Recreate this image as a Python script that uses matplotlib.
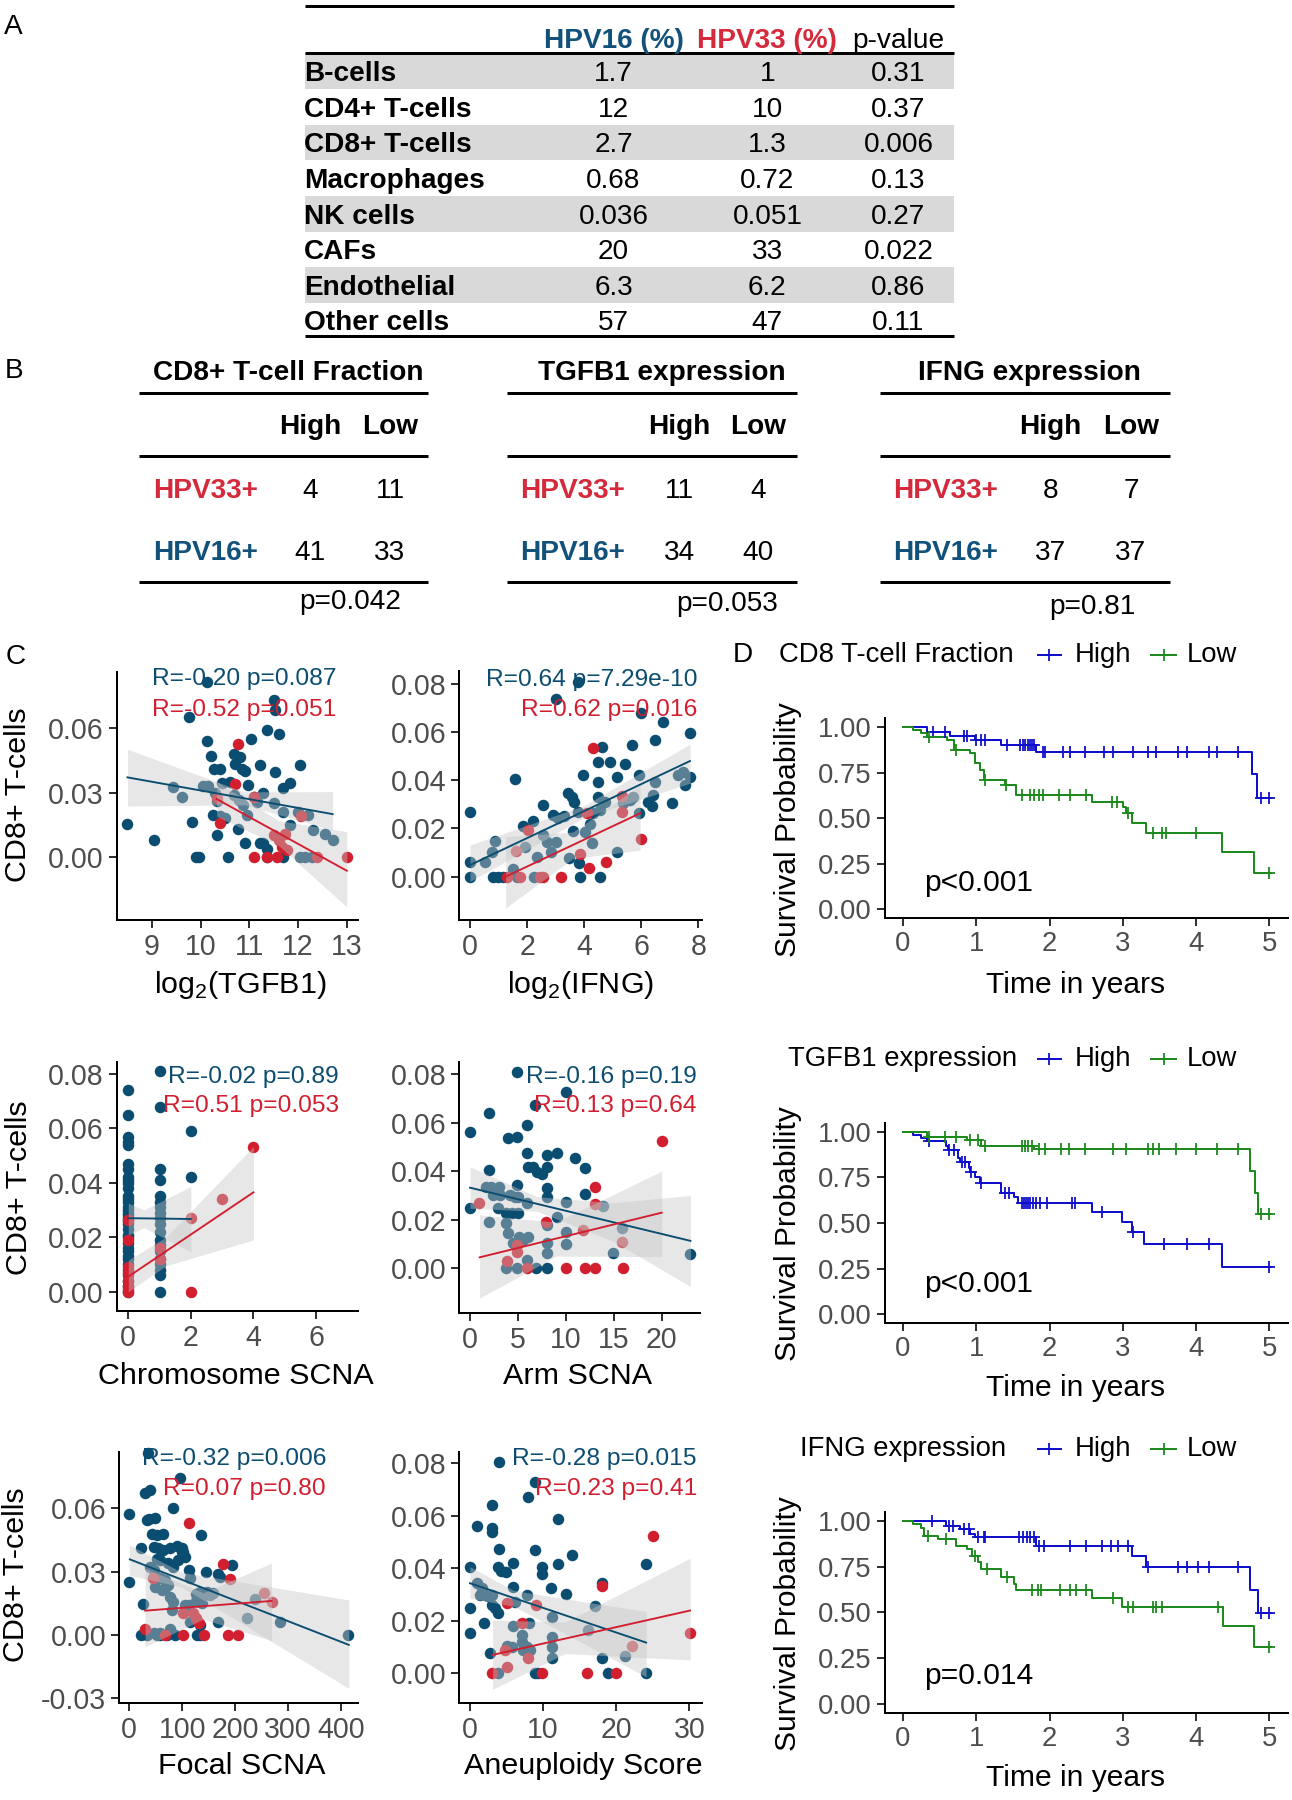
import numpy as np
import matplotlib
matplotlib.use("Agg")
import matplotlib.pyplot as plt
from matplotlib.lines import Line2D
from matplotlib.patches import Rectangle

plt.rcParams["font.family"] = ["Liberation Sans", "DejaVu Sans"]
plt.rcParams["axes.unicode_minus"] = False
plt.rcParams["mathtext.fontset"] = "custom"
plt.rcParams["mathtext.rm"] = "Liberation Sans"

W, H = 1292, 1800
PT = 0.72  # px -> pt at dpi 100

BLUE = "#0b4d70"
RED = "#d21f30"
HPV16_TXT = "#12527a"
HPV33_TXT = "#d42a3c"
SURV_HI = "#1010cc"
SURV_LO = "#1c8a1c"
TICK_TXT = "#4d4d4d"

# ---------------- A: cell fractions ----------------
cell_types = ["B-cells", "CD4+ T-cells", "CD8+ T-cells", "Macrophages",
              "NK cells", "CAFs", "Endothelial", "Other cells"]
hpv16_pct = ["1.7", "12", "2.7", "0.68", "0.036", "20", "6.3", "57"]
hpv33_pct = ["1", "10", "1.3", "0.72", "0.051", "33", "6.2", "47"]
frac_pval = ["0.31", "0.37", "0.006", "0.13", "0.27", "0.022", "0.86", "0.11"]

# ---------------- B: contingency tables ----------------
ct_titles = ["CD8+ T-cell Fraction", "TGFB1 expression", "IFNG expression"]
ct_hpv33 = [[4, 11], [11, 4], [8, 7]]
ct_hpv16 = [[41, 33], [34, 40], [37, 37]]
ct_pval = ["p=0.042", "p=0.053", "p=0.81"]

# ---------------- C: scatter data (blue = HPV16, red = HPV33) ----------------
tgf_bx = [8.49, 9.05, 9.62, 9.44, 9.77, 9.82, 9.90, 9.97, 10.14, 10.14, 10.22, 10.27, 10.40, 10.06, 10.16,
          10.30, 10.33, 10.26, 10.33, 10.44, 10.57, 10.40, 10.50, 10.68, 10.81, 10.71, 10.85, 10.91, 10.68,
          10.78, 10.88, 10.76, 10.91, 10.98, 11.03, 10.95, 11.22, 11.22, 11.29, 11.36, 11.36, 11.36, 11.50,
          11.53, 11.60, 11.53, 11.29, 11.50, 11.70, 11.84, 11.70, 11.84, 11.70, 12.04, 12.00, 12.20, 12.04,
          12.14, 12.28, 12.30, 12.55, 12.72, 11.15, 11.09, 10.61]
tgf_by = [0.0154, 0.0080, 0.0280, 0.0327, 0.0650, 0.0165, 0.0, 0.0, 0.0810, 0.0540, 0.0470, 0.0410, 0.0410,
          0.0330, 0.0330, 0.0296, 0.0260, 0.0196, 0.0103, 0.0345, 0.0, 0.0190, 0.0180, 0.0480, 0.0466, 0.0430,
          0.0410, 0.0400, 0.0288, 0.0265, 0.0240, 0.0130, 0.0065, 0.0335, 0.0546, 0.0196, 0.0427, 0.0065,
          0.0065, 0.0037, 0.0, 0.0590, 0.0730, 0.0680, 0.0570, 0.0396, 0.0296, 0.0250, 0.0320, 0.0345, 0.0211,
          0.0150, 0.0, 0.0427, 0.0210, 0.0196, 0.0, 0.0, 0.0, 0.0126, 0.0110, 0.0080, 0.0258, 0.0280, 0.0350]
tgf_rx = [10.76, 10.70, 10.33, 10.40, 11.09, 11.09, 11.36, 11.56, 12.07, 11.50, 11.60, 11.73, 11.77, 12.38, 13.00, 11.67]
tgf_ry = [0.0524, 0.0338, 0.0273, 0.0157, 0.0280, 0.0, 0.0, 0.0, 0.0193, 0.0103, 0.0080, 0.0110, 0.0034, 0.0, 0.0, 0.0050]
tgf_bline = ([8.50, 12.71], [0.037, 0.020])
tgf_rline = ([10.33, 13.00], [0.027, -0.0062])
tgf_brib = ([8.50, 10.90, 12.71], [0.0237, 0.0243, 0.0126], [0.0500, 0.0303, 0.0304])
tgf_rrib = ([10.33, 11.60, 13.00], [0.0190, 0.0055, -0.0230], [0.0350, 0.0170, 0.0119])

ifn_bx = [0.00, 0.00, 0.00, 0.53, 0.76, 0.88, 0.82, 0.99, 1.17, 1.58, 1.52, 1.64, 1.87, 2.22, 1.94, 2.24, 2.34,
          2.57, 2.57, 2.69, 3.00, 2.83, 2.92, 3.10, 3.29, 3.00, 3.45, 3.56, 3.64, 3.48, 3.62, 3.80, 3.83, 3.85,
          3.97, 4.03, 4.20, 4.26, 4.32, 4.50, 4.50, 4.50, 4.55, 4.73, 4.64, 4.55, 4.90, 5.14, 5.14, 5.43, 5.37,
          5.60, 5.67, 5.72, 5.93, 5.93, 5.99, 6.25, 6.37, 6.43, 6.48, 6.48, 6.78, 7.07, 7.30, 7.48, 7.53, 7.71,
          7.71, 3.80]
ifn_by = [0.0270, 0.0062, 0.0, 0.0062, 0.0104, 0.0150, 0.0, 0.0, 0.0, 0.0404, 0.0030, 0.0, 0.0210, 0.0230,
          0.0125, 0.0, 0.0083, 0.0298, 0.0173, 0.0145, 0.0145, 0.0104, 0.0256, 0.0242, 0.0250, 0.0736, 0.0346,
          0.0332, 0.0310, 0.0076, 0.0190, 0.0270, 0.0058, 0.0, 0.0420, 0.0187, 0.0218, 0.0138, 0.0263, 0.0332,
          0.0477, 0.0394, 0.0277, 0.0310, 0.0540, 0.0, 0.0477, 0.0415, 0.0104, 0.0466, 0.0304, 0.0318, 0.0547,
          0.0332, 0.0422, 0.0263, 0.0678, 0.0310, 0.0293, 0.0339, 0.0394, 0.0567, 0.0644, 0.0307, 0.0422,
          0.0436, 0.0380, 0.0415, 0.0595, 0.0810]
ifn_rx = [2.04, 1.28, 1.60, 1.75, 2.45, 2.57, 3.18, 3.86, 4.11, 4.30, 4.18, 4.77, 5.32, 5.32, 5.98]
ifn_ry = [0.0194, 0.0, 0.0108, 0.0, 0.0, 0.0, 0.0, 0.0094, 0.0266, 0.0533, 0.0035, 0.0062, 0.0270, 0.0336, 0.0155]
ifn_bline = ([0.00, 7.71], [0.0048, 0.0480])
ifn_rline = ([1.25, 5.96], [0.0000, 0.0263])
ifn_brib = ([0.00, 4.00, 7.71], [-0.0020, 0.0245, 0.0388], [0.0131, 0.0295, 0.0550])
ifn_rrib = ([1.25, 3.60, 5.96], [-0.0130, 0.0075, 0.0110], [0.0166, 0.0185, 0.0380])

chr_bx = [0, 0, 0, 0, 0, 0, 0, 0, 0, 0, 0, 0, 0, 0, 0, 0, 0, 0, 0, 0, 0, 0, 0, 0, 0, 0, 0, 0, 0, 0, 0, 0, 0, 0, 0,
          1, 1, 1, 1, 1, 1, 1, 1, 1, 1, 1, 1, 1, 1, 1, 1, 1, 1, 1, 2, 2]
chr_by = [0.074, 0.065, 0.057, 0.055, 0.054, 0.047, 0.045, 0.042, 0.041, 0.040, 0.038, 0.035, 0.034, 0.033,
          0.031, 0.030, 0.029, 0.028, 0.027, 0.026, 0.025, 0.023, 0.021, 0.020, 0.018, 0.016, 0.015, 0.013,
          0.012, 0.010, 0.008, 0.006, 0.004, 0.002, 0.000,
          0.081, 0.068, 0.045, 0.041, 0.035, 0.033, 0.031, 0.029, 0.027, 0.025, 0.022, 0.019, 0.017, 0.015,
          0.012, 0.010, 0.008, 0.006, 0.000, 0.059, 0.042]
chr_rx = [0, 0, 0, 0, 0, 0, 0, 0, 1, 1, 2, 2, 3, 4]
chr_ry = [0.0265, 0.019, 0.009, 0.007, 0.004, 0.002, 0.001, 0.0, 0.016, 0.012, 0.027, 0.0, 0.034, 0.053]
chr_bline = ([0.0, 2.0], [0.0270, 0.0267])
chr_rline = ([0.0, 4.0], [0.0055, 0.0365])
chr_brib = ([0.0, 0.5, 2.0], [0.0208, 0.0235, 0.0147], [0.0325, 0.0300, 0.0386])
chr_rrib = ([0.0, 1.2, 4.0], [0.0000, 0.0095, 0.0190], [0.0116, 0.0200, 0.0533])

arm_bx = [0, 0, 1.98, 1.98, 1.98, 1.7, 2.2, 3.0, 2.4, 3.1, 2.96, 3.93, 4.87, 4.17, 4.7, 5.0, 3.8, 4.35, 5.04,
          3.8, 4.0, 4.5, 3.8, 4.87, 4.87, 5.1, 5.57, 5.91, 5.91, 6.1, 6.6, 5.91, 5.91, 6.1, 6.78, 6.96, 7.48,
          8.0, 6.9, 8.0, 8.0, 9.04, 8.0, 8.0, 8.0, 8.0, 8.0, 9.04, 9.98, 9.98, 9.98, 9.98, 11.0, 12.0, 12.0,
          13.9, 14.96, 15.9, 22.96, 4.87]
arm_by = [0.0563, 0.0247, 0.064, 0.0405, 0.0192, 0.0336, 0.0336, 0.0336, 0.030, 0.030, 0.0247, 0.0535, 0.0542,
          0.030, 0.0295, 0.0295, 0.0226, 0.0226, 0.0226, 0.0185, 0.0144, 0.0103, 0.0, 0.0, 0.0343, 0.013,
          0.0117, 0.059, 0.0473, 0.0418, 0.0418, 0.0268, 0.0034, 0.013, 0.0672, 0.0398, 0.039, 0.0418, 0.0,
          0.0, 0.0466, 0.0473, 0.033, 0.0295, 0.0178, 0.0103, 0.0062, 0.0212, 0.0727, 0.0272, 0.0151, 0.010,
          0.0453, 0.0412, 0.0306, 0.0258, 0.0062, 0.0165, 0.0058, 0.0807]
arm_rx = [0.97, 3.9, 4.87, 4.94, 5.98, 7.9, 9.98, 11.83, 12.0, 13.0, 13.0, 13.0, 15.9, 16.0, 20.0]
arm_ry = [0.0268, 0.0032, 0.0096, 0.0069, 0.0, 0.0192, 0.0, 0.0158, 0.0, 0.0, 0.0336, 0.0265, 0.011, 0.0, 0.0524]
arm_bline = ([0.0, 23.0], [0.0332, 0.0113])
arm_rline = ([1.0, 20.0], [0.0045, 0.0229])
arm_brib = ([0.0, 7.0, 15.0, 23.0], [0.0247, 0.0235, 0.0110, -0.0075], [0.0418, 0.0295, 0.0270, 0.0300])
arm_rrib = ([1.0, 9.0, 20.0], [-0.0123, 0.0050, 0.0048], [0.0220, 0.0190, 0.0400])

foc_bx = [0, 0, 23, 25, 23, 33, 33, 38, 49, 30, 40, 36, 42, 52, 64, 46, 55, 64, 77, 90, 99, 102, 52, 58, 39,
          46, 58, 68, 74, 61, 68, 49, 77, 83, 80, 52, 58, 71, 86, 46, 58, 77, 83, 74, 83, 93, 95, 99, 106, 106,
          112, 112, 115, 115, 124, 134, 128, 134, 136, 127, 134, 140, 146, 152, 159, 127, 134, 137, 145, 168,
          172, 168, 194, 222, 238, 285, 414]
foc_by = [0.0572, 0.0253, 0.041, 0.0145, 0.0, 0.0, 0.0545, 0.055, 0.0553, 0.067, 0.0687, 0.086, 0.048, 0.0474,
          0.048, 0.0415, 0.041, 0.040, 0.041, 0.042, 0.041, 0.0395, 0.036, 0.0355, 0.0324, 0.0308, 0.027,
          0.026, 0.0237, 0.0213, 0.022, 0.0229, 0.0182, 0.0158, 0.0118, 0.0, 0.0, 0.0, 0.0, 0.0008, 0.0008,
          0.003, 0.060, 0.034, 0.0324, 0.0355, 0.0742, 0.0395, 0.037, 0.0142, 0.0142, 0.0308, 0.027, 0.0063,
          0.0071, 0.0047, 0.0, 0.0, 0.0474, 0.0195, 0.0205, 0.019, 0.0205, 0.019, 0.0197, 0.016, 0.0158, 0.015,
          0.030, 0.029, 0.0276, 0.0063, 0.0332, 0.0079, 0.017, 0.0063, 0.0]
foc_rx = [30, 44, 67, 101, 101, 112, 120, 127, 131, 141, 177, 191, 186, 206, 254, 269]
foc_ry = [0.0027, 0.027, 0.0, 0.0103, 0.0, 0.053, 0.0103, 0.0079, 0.0055, 0.0, 0.0335, 0.0265, 0.0, 0.0,
          0.0197, 0.0158]
foc_bline = ([1.0, 415.0], [0.0358, -0.0047])
foc_rline = ([30.0, 269.0], [0.0115, 0.0161])
foc_brib = ([0.0, 100.0, 415.0], [0.0284, 0.0226, -0.0253], [0.0426, 0.0296, 0.0166])
foc_rrib = ([30.0, 140.0, 269.0], [-0.0055, 0.0075, -0.0027], [0.0316, 0.0200, 0.0340])

ane_bx = [0, 0, 0, 0.91, 1.0, 1.4, 2.05, 2.5, 2.96, 1.6, 1.96, 2.96, 2.96, 2.96, 3.0, 3.4, 2.74, 3.97, 3.9,
          4.3, 4.9, 3.9, 3.9, 4.0, 5.9, 5.9, 6.1, 5.9, 5.7, 5.0, 7.1, 7.1, 7.3, 7.75, 8.1, 7.75, 8.2, 8.0, 8.9,
          8.9, 8.9, 9.35, 9.9, 9.9, 11.1, 11.2, 11.2, 11.2, 11.2, 12.1, 12.1, 13.1, 14.0, 16.2, 17.1, 18.0, 18.0,
          18.9, 21.2, 24.1, 24.1]
ane_by = [0.0406, 0.0248, 0.0152, 0.0561, 0.0343, 0.030, 0.030, 0.0293, 0.030, 0.0324, 0.0193, 0.0641, 0.054,
          0.0553, 0.026, 0.025, 0.0076, 0.0472, 0.0406, 0.039, 0.0387, 0.0229, 0.0, 0.0806, 0.042, 0.033, 0.027,
          0.018, 0.0102, 0.0104, 0.0146, 0.012, 0.009, 0.0298, 0.0193, 0.0102, 0.009, 0.0673, 0.073, 0.047, 0.0,
          0.0, 0.0406, 0.038, 0.0324, 0.0216, 0.014, 0.0102, 0.0057, 0.0587, 0.0417, 0.0302, 0.0451, 0.0165,
          0.0257, 0.0343, 0.006, 0.0, 0.0064, 0.0417, 0.0]
ane_rx = [3.0, 5.0, 4.8, 5.0, 7.1, 8.0, 9.0, 9.9, 16.0, 18.0, 20.0, 22.1, 25.1, 30.1]
ane_ry = [0.0, 0.0267, 0.0089, 0.0025, 0.019, 0.006, 0.026, 0.0, 0.0, 0.0333, 0.0, 0.0104, 0.0523, 0.0152]
ane_bline = ([0.0, 24.1], [0.0343, 0.0117])
ane_rline = ([3.1, 30.1], [0.0070, 0.0239])
ane_brib = ([0.0, 6.0, 24.1], [0.0286, 0.0255, -0.0013], [0.0406, 0.0315, 0.0235])
ane_rrib = ([3.1, 13.0, 30.1], [-0.0061, 0.0075, 0.0051], [0.0203, 0.0195, 0.0438])

stat_blue = ["R=-0.20 p=0.087", "R=0.64 p=7.29e-10", "R=-0.02 p=0.89",
             "R=-0.16 p=0.19", "R=-0.32 p=0.006", "R=-0.28 p=0.015"]
stat_red = ["R=-0.52 p=0.051", "R=0.62 p=0.016", "R=0.51 p=0.053",
            "R=0.13 p=0.64", "R=0.07 p=0.80", "R=0.23 p=0.41"]
x_labels = ["log$_2$(TGFB1)", "log$_2$(IFNG)", "Chromosome SCNA", "Arm SCNA", "Focal SCNA", "Aneuploidy Score"]

# ---------------- D: Kaplan-Meier (step times, survival, censor times) ----------------
cd8_hi_t = [0, 0.33, 0.64, 0.98, 1.34, 1.81, 4.77, 4.83, 5.02]
cd8_hi_s = [1.0, 0.977, 0.955, 0.93, 0.903, 0.866, 0.744, 0.61, 0.61]
cd8_hi_c = [0.41, 0.57, 0.83, 0.88, 1.0, 1.07, 1.12, 1.42, 1.6, 1.64, 1.67, 1.7, 1.73, 1.76, 1.79, 1.91, 1.94,
            2.18, 2.28, 2.48, 2.75, 2.87, 3.14, 3.34, 3.46, 3.76, 3.88, 4.18, 4.28, 4.57, 4.89, 5.0]
cd8_lo_t = [0, 0.14, 0.24, 0.33, 0.6, 0.7, 0.92, 0.98, 1.05, 1.1, 1.39, 1.54, 2.58, 3.0, 3.05, 3.12, 3.32,
            4.36, 4.79, 5.02]
cd8_lo_s = [1.0, 0.985, 0.967, 0.945, 0.93, 0.875, 0.857, 0.802, 0.766, 0.71, 0.683, 0.628, 0.588, 0.564,
            0.531, 0.476, 0.421, 0.317, 0.2, 0.2]
cd8_lo_c = [0.36, 0.72, 1.12, 1.41, 1.62, 1.74, 1.79, 1.86, 1.91, 2.13, 2.28, 2.5, 2.85, 2.92, 3.07, 3.41,
            3.54, 3.59, 4.0, 5.0]

tgf_hi_t = [0, 0.14, 0.24, 0.33, 0.58, 0.61, 0.75, 0.78, 0.9, 0.92, 0.98, 1.05, 1.34, 1.52, 1.57, 2.58, 2.99,
            3.12, 3.29, 4.36, 5.02]
tgf_hi_s = [1.0, 0.984, 0.965, 0.947, 0.923, 0.901, 0.859, 0.832, 0.804, 0.777, 0.75, 0.717, 0.667, 0.64,
            0.612, 0.558, 0.503, 0.448, 0.384, 0.256, 0.256]
tgf_hi_c = [0.35, 0.63, 0.69, 0.8, 0.85, 0.93, 1.07, 1.39, 1.44, 1.62, 1.65, 1.68, 1.7, 1.73, 1.77, 1.82, 1.87,
            1.96, 2.31, 2.35, 2.72, 3.14, 3.56, 3.88, 4.18, 5.0]
tgf_lo_t = [0, 0.33, 0.88, 1.07, 1.79, 4.74, 4.81, 4.84, 5.02]
tgf_lo_s = [1.0, 0.973, 0.954, 0.923, 0.905, 0.786, 0.667, 0.552, 0.552]
tgf_lo_c = [0.36, 0.57, 0.73, 0.92, 1.02, 1.12, 1.62, 1.67, 1.71, 1.76, 1.86, 1.94, 2.16, 2.26, 2.48, 2.87,
            3.04, 3.34, 3.41, 3.49, 3.73, 4.0, 4.28, 4.57, 4.89, 5.0]

ifn_hi_t = [0, 0.58, 0.78, 0.92, 0.98, 1.81, 3.12, 3.32, 4.74, 4.84, 5.02]
ifn_hi_s = [1.0, 0.973, 0.954, 0.927, 0.909, 0.863, 0.808, 0.748, 0.62, 0.493, 0.493]
ifn_hi_c = [0.39, 0.63, 0.68, 0.83, 0.9, 1.02, 1.1, 1.12, 1.59, 1.64, 1.69, 1.74, 1.79, 1.86, 1.93, 2.28, 2.5,
            2.72, 2.84, 2.94, 3.07, 3.34, 3.76, 3.88, 4.03, 4.18, 4.57, 4.89, 5.0]
ifn_lo_t = [0, 0.14, 0.24, 0.29, 0.48, 0.73, 0.88, 0.94, 1.02, 1.07, 1.34, 1.52, 1.54, 2.58, 2.99, 4.37,
            4.79, 5.02]
ifn_lo_s = [1.0, 0.982, 0.96, 0.918, 0.9, 0.863, 0.845, 0.808, 0.772, 0.735, 0.69, 0.653, 0.62, 0.58, 0.526,
            0.425, 0.307, 0.307]
ifn_lo_c = [0.34, 0.58, 0.98, 1.15, 1.42, 1.76, 1.84, 1.89, 2.14, 2.28, 2.36, 2.5, 2.87, 3.07, 3.14, 3.41,
            3.46, 3.54, 4.3, 5.0]

km_titles = ["CD8 T-cell Fraction", "TGFB1 expression", "IFNG expression"]
km_pvals = ["p<0.001", "p<0.001", "p=0.014"]

# ======================================================================
fig = plt.figure(figsize=(W / 100, H / 100), dpi=100)


def fx(x):
    return x / W


def fy(y):
    return 1 - y / H


def ftext(x, y, s, size=28, dy=0.0, **kw):
    kw.setdefault("va", "center")
    fig.text(fx(x), fy(y + dy), s, fontsize=size * PT, **kw)


def hline(x0, x1, y, lw=3.0, color="black"):
    fig.add_artist(Line2D([fx(x0), fx(x1)], [fy(y), fy(y)], color=color, lw=lw * PT,
                          solid_capstyle="butt"))


def px_axes(l, t, r, b):
    return fig.add_axes([fx(l), fy(b), (r - l) / W, (b - t) / H])


def style_axes(ax, labsize):
    for s in ("top", "right"):
        ax.spines[s].set_visible(False)
    for s in ("left", "bottom"):
        ax.spines[s].set_linewidth(2.0 * PT)
    ax.tick_params(length=8 * PT, width=1.6 * PT, color="black", labelcolor=TICK_TXT,
                   labelsize=labsize * PT, pad=5 * PT)


TD = 3.0  # table text nudge (px)

# ---- panel A ----
ftext(4, 27, "A", size=28)
hline(304.6, 954, 5.5)
ftext(613.5, 37.5, "HPV16 (%)", dy=TD, color=HPV16_TXT, weight="bold", ha="center")
ftext(767.4, 37.5, "HPV33 (%)", dy=TD, color=HPV33_TXT, weight="bold", ha="center")
ftext(898.5, 37.5, "p-value", dy=TD, ha="center")
hline(304.6, 954, 52.5)
for i, name in enumerate(cell_types):
    yc = 71.3 + i * 35.6
    if i % 2 == 0:
        fig.add_artist(Rectangle((fx(304.6), fy(yc + 17.8)), (954 - 304.6) / W, 35.6 / H,
                                 color="#d9d9d9", lw=0, zorder=0))
    ftext(304, yc, name, dy=TD, weight="bold")
    ftext(613.5, yc, hpv16_pct[i], dy=TD, ha="center")
    ftext(767.4, yc, hpv33_pct[i], dy=TD, ha="center")
    ftext(898.5, yc, frac_pval[i], dy=TD, ha="center")
hline(304.6, 954, 336)

# ---- panel B ----
ftext(5, 371, "B", size=28)
ct_left = [139, 507, 880]
ct_right = [428, 797, 1170]
ct_title_x = [288, 662, 1029.5]
ct_high_x = [310, 679.4, 1050.5]
ct_low_x = [390, 758, 1131]
ct_lab_x = [153, 520.3, 893]
ct_p_x = [350, 727, 1092]
ct_p_y = [600, 602, 605]
for k in range(3):
    l, r = ct_left[k], ct_right[k]
    ftext(ct_title_x[k], 371.5, ct_titles[k], dy=2, weight="bold", ha="center")
    hline(l, r, 393)
    ftext(ct_high_x[k], 425, "High", dy=2, weight="bold", ha="center")
    ftext(ct_low_x[k], 425, "Low", dy=2, weight="bold", ha="center")
    hline(l, r, 456)
    ftext(ct_lab_x[k], 488.5, "HPV33+", dy=2, weight="bold", color=HPV33_TXT)
    ftext(ct_lab_x[k], 551.5, "HPV16+", dy=2, weight="bold", color=HPV16_TXT)
    ftext(ct_high_x[k], 488.5, str(ct_hpv33[k][0]), dy=2, ha="center")
    ftext(ct_low_x[k], 488.5, str(ct_hpv33[k][1]), dy=2, ha="center")
    ftext(ct_high_x[k], 551.5, str(ct_hpv16[k][0]), dy=2, ha="center")
    ftext(ct_low_x[k], 551.5, str(ct_hpv16[k][1]), dy=2, ha="center")
    hline(l, r, 582)
    ftext(ct_p_x[k], ct_p_y[k], ct_pval[k], dy=2, ha="center")

# ---- panel C ----
ftext(6, 657, "C", size=28)
scatter_sets = [
    (tgf_bx, tgf_by, tgf_rx, tgf_ry, tgf_bline, tgf_rline, tgf_brib, tgf_rrib),
    (ifn_bx, ifn_by, ifn_rx, ifn_ry, ifn_bline, ifn_rline, ifn_brib, ifn_rrib),
    (chr_bx, chr_by, chr_rx, chr_ry, chr_bline, chr_rline, chr_brib, chr_rrib),
    (arm_bx, arm_by, arm_rx, arm_ry, arm_bline, arm_rline, arm_brib, arm_rrib),
    (foc_bx, foc_by, foc_rx, foc_ry, foc_bline, foc_rline, foc_brib, foc_rrib),
    (ane_bx, ane_by, ane_rx, ane_ry, ane_bline, ane_rline, ane_brib, ane_rrib),
]
boxes = [(116.7, 671.7, 358, 920), (459.3, 670.7, 701.7, 920),
         (116.7, 1061.7, 358.3, 1310.7), (459.3, 1061.7, 700, 1312.7),
         (119.3, 1451.7, 358.3, 1702.7), (459.3, 1451.7, 701.7, 1702.7)]
xlims = [(8.28, 13.23), (-0.375, 8.12), (-0.37, 7.35), (-1.12, 24.0), (-18.9, 433), (-1.46, 31.7)]
ylims = [(-0.029, 0.0859), (-0.018, 0.0855), (-0.007, 0.0845), (-0.0183, 0.0851),
         (-0.0321, 0.0868), (-0.0112, 0.0844)]
xticks = [[9, 10, 11, 12, 13], [0, 2, 4, 6, 8], [0, 2, 4, 6], [0, 5, 10, 15, 20],
          [0, 100, 200, 300, 400], [0, 10, 20, 30]]
yticks = [[0.0, 0.03, 0.06], [0.0, 0.02, 0.04, 0.06, 0.08], [0.0, 0.02, 0.04, 0.06, 0.08],
          [0.0, 0.02, 0.04, 0.06, 0.08], [-0.03, 0.0, 0.03, 0.06], [0.0, 0.02, 0.04, 0.06, 0.08]]
ann_right = [336.5, 697, 338.8, 697, 326, 697]
ann_y = [(679, 710), (680, 710), (1077, 1106), (1077, 1106), (1458.5, 1489.5), (1458.5, 1489.5)]
xlab_pos = [(240, 985), (581, 985), (235.4, 1376), (577.6, 1376), (241.7, 1766), (582.8, 1766)]
ylab_pos = [(18, 795), (19, 1188), (16, 1575)]

for k, (bx, by, rx, ry, bl, rl, brb, rrb) in enumerate(scatter_sets):
    ax = px_axes(*boxes[k])
    ax.scatter(bx, by, s=(11.5 * PT) ** 2, color=BLUE, lw=0, zorder=2, clip_on=False)
    ax.scatter(rx, ry, s=(11.5 * PT) ** 2, color=RED, lw=0, zorder=2, clip_on=False)
    for rib in (brb, rrb):
        ax.fill_between(rib[0], rib[1], rib[2], color="#c6c6c6", alpha=0.42, lw=0, zorder=3)
    ax.plot(bl[0], bl[1], color=BLUE, lw=1.9 * PT, zorder=4)
    ax.plot(rl[0], rl[1], color=RED, lw=1.9 * PT, zorder=4)
    ax.set_xlim(xlims[k])
    ax.set_ylim(ylims[k])
    ax.set_xticks(xticks[k])
    ax.set_yticks(yticks[k])
    ax.set_yticklabels([f"{v:.2f}" for v in yticks[k]])
    style_axes(ax, 28.5)
    ftext(ann_right[k], ann_y[k][0], stat_blue[k], size=24.5, color=BLUE, ha="right")
    ftext(ann_right[k], ann_y[k][1], stat_red[k], size=24.5, color=RED, ha="right")
    ftext(xlab_pos[k][0], xlab_pos[k][1], x_labels[k], size=30.5, ha="center")
    if k % 2 == 0:
        yl = ylab_pos[k // 2]
        ftext(yl[0], yl[1], "CD8+ T-cells", size=30.5, ha="center", rotation=90)

# ---- panel D ----
ftext(733, 655, "D", size=28)
km_sets = [
    (cd8_hi_t, cd8_hi_s, cd8_hi_c, cd8_lo_t, cd8_lo_s, cd8_lo_c),
    (tgf_hi_t, tgf_hi_s, tgf_hi_c, tgf_lo_t, tgf_lo_s, tgf_lo_c),
    (ifn_hi_t, ifn_hi_s, ifn_hi_c, ifn_lo_t, ifn_lo_s, ifn_lo_c),
]
km_top = [718.3, 1122.7, 1511.7]
km_bottom = [918.3, 1323.3, 1712.7]
km_title_x = [778.6, 787.6, 800]
km_title_y = [655, 1058.5, 1448.5]
km_p_y = [883, 1284.5, 1676]
km_ylab_y = [830, 1234, 1624]
km_xlab_y = [985, 1388, 1778]


def legend_key(x0, x1, y, col):
    fig.add_artist(Line2D([fx(x0), fx(x1)], [fy(y), fy(y)], color=col, lw=2 * PT))
    fig.add_artist(Line2D([fx((x0 + x1) / 2)], [fy(y)], color=col, marker="+", ls="none",
                          ms=12 * PT, mew=1.8 * PT))


for k, (ht, hs, hc, lt, ls_, lc) in enumerate(km_sets):
    ax = px_axes(884.7, km_top[k], 1287.6, km_bottom[k])
    for t, s, c, col in ((ht, hs, hc, SURV_HI), (lt, ls_, lc, SURV_LO)):
        ax.step(t, s, where="post", color=col, lw=2.0 * PT, zorder=3)
        idx = np.searchsorted(t, c, side="right") - 1
        ax.plot(c, np.asarray(s)[idx], ls="none", marker="+", ms=12 * PT, mew=1.8 * PT,
                color=col, zorder=4)
    ax.set_xlim(-0.25, 5.25)
    ax.set_ylim(-0.05, 1.05)
    ax.set_xticks([0, 1, 2, 3, 4, 5])
    ax.set_yticks([0, 0.25, 0.5, 0.75, 1.0])
    ax.set_yticklabels(["0.00", "0.25", "0.50", "0.75", "1.00"])
    style_axes(ax, 27.5)
    ftext(924, km_p_y[k], km_pvals[k], size=30)
    ftext(787.5, km_ylab_y[k], "Survival Probability", size=30, ha="center", rotation=90)
    ftext(1076, km_xlab_y[k], "Time in years", size=30, ha="center")
    ftext(km_title_x[k], km_title_y[k], km_titles[k], size=27.5)
    legend_key(1037.5, 1061, km_title_y[k], SURV_HI)
    ftext(1075, km_title_y[k], "High", size=27.5)
    legend_key(1151, 1176, km_title_y[k], SURV_LO)
    ftext(1187, km_title_y[k], "Low", size=27.5)

fig.savefig("out.png", dpi=100)
print("saved out.png")
